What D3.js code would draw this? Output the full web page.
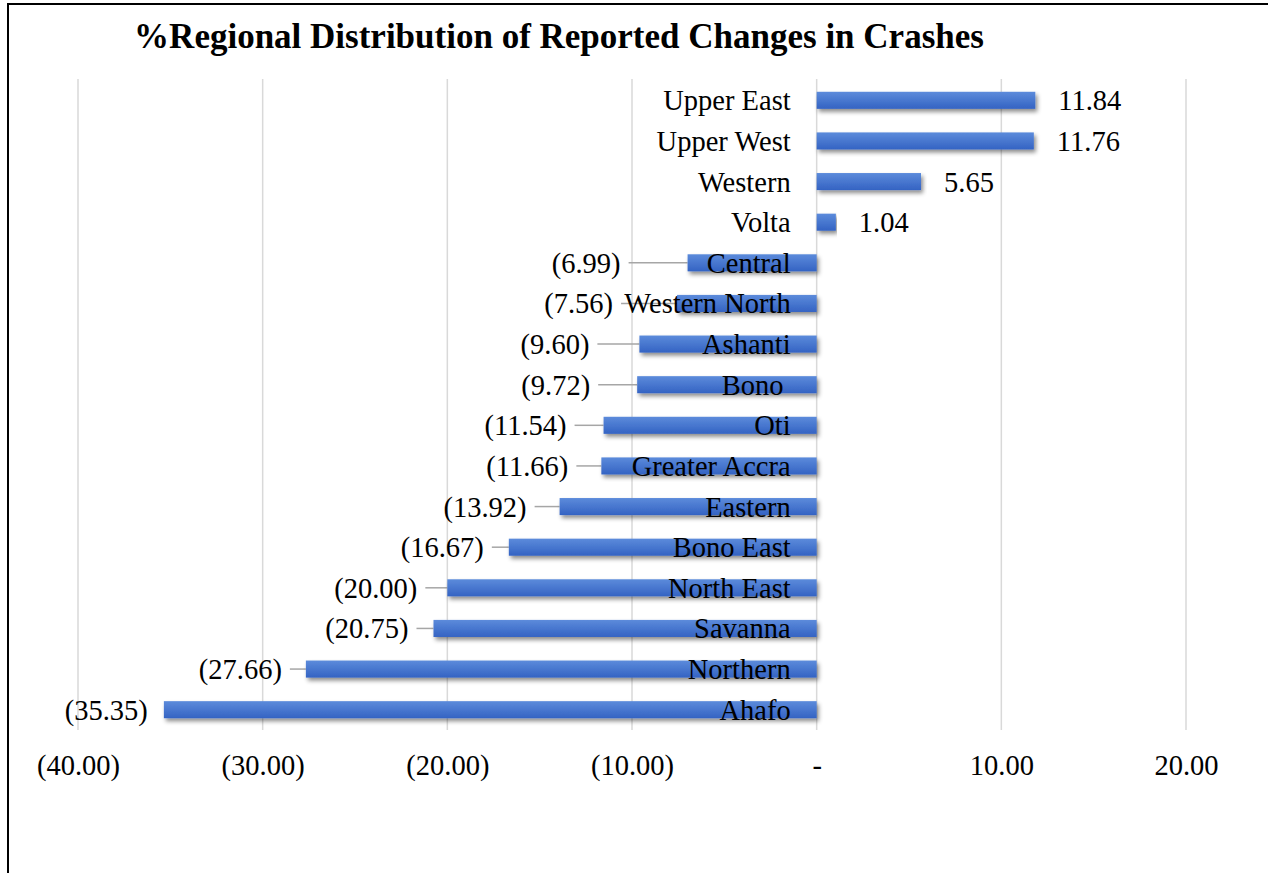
<!DOCTYPE html>
<html>
<head>
<meta charset="utf-8">
<script src="https://cdn.jsdelivr.net/npm/d3@7"></script>
<style>
	body { margin: 0; background: #fff; }
	svg { display: block; font-family: "Liberation Serif", "Times New Roman", serif; }
</style>
</head>
<body>
<svg width="1268" height="873"></svg>
<script>
// regions, top to bottom as in the chart
const regions = ["Upper East", "Upper West", "Western", "Volta", "Central", "Western North",
	"Ashanti", "Bono ", "Oti", "Greater Accra", "Eastern", "Bono East", "North East",
	"Savanna", "Northern", "Ahafo"];
const changes = [11.84, 11.76, 5.65, 1.04, -6.99, -7.56, -9.60, -9.72, -11.54, -11.66,
	-13.92, -16.67, -20.00, -20.75, -27.66, -35.35];
const ticks = [-40, -30, -20, -10, 0, 10, 20];
// how far the negative labels sit left of their bar (px)
const labelGap = [0, 0, 0, 0, 67, 64, 50, 47, 37, 33, 33, 25, 30, 25, 24, 16];

let svg = d3.select("svg");
const fs = 28.5;

const fmt = v => v === 0 ? "-" : v < 0 ? "(" + d3.format(".2f")(-v) + ")" : d3.format(".2f")(v);

let x = d3.scaleLinear().domain([-40, 20]).range([78, 1186]);
let y = d3.scaleBand().domain(regions).range([80, 730]).paddingInner(0.58).paddingOuter(0.29);

// outer frame (only top and left are inside the picture)
svg.append("path")
	.attr("d", "M8,873 V4 H1268")
	.attr("fill", "none")
	.attr("stroke", "#000")
	.attr("stroke-width", 2);

svg.append("text")
	.attr("x", 559)
	.attr("y", 48)
	.attr("text-anchor", "middle")
	.attr("font-size", 35)
	.attr("font-weight", "bold")
	.text("%Regional Distribution of Reported Changes in Crashes");

let defs = svg.append("defs");
let grad = defs.append("linearGradient")
	.attr("id", "barfill")
	.attr("x1", 0).attr("y1", 0).attr("x2", 0).attr("y2", 1);
grad.append("stop").attr("offset", "0%").attr("stop-color", "#5c8bdb");
grad.append("stop").attr("offset", "100%").attr("stop-color", "#3463c3");

let shadow = defs.append("filter")
	.attr("id", "shadow")
	.attr("x", "-5%").attr("y", "-40%").attr("width", "110%").attr("height", "200%");
shadow.append("feDropShadow")
	.attr("dx", 2).attr("dy", 3).attr("stdDeviation", 2)
	.attr("flood-color", "#000").attr("flood-opacity", 0.45);

// gridlines
svg.append("g")
	.selectAll("line")
	.data(ticks)
	.enter().append("line")
		.attr("x1", d => x(d)).attr("x2", d => x(d))
		.attr("y1", 79).attr("y2", 730)
		.attr("stroke", "#d9d9d9")
		.attr("stroke-width", 1.5);

// axis
let axis = svg.append("g")
	.attr("transform", "translate(0,752)")
	.call(d3.axisBottom(x).tickValues(ticks).tickFormat(fmt).tickSize(0).tickPadding(0));
axis.select(".domain").remove();
axis.selectAll("text")
	.attr("font-family", "Liberation Serif, Times New Roman, serif")
	.attr("font-size", fs)
	.attr("fill", "#000")
	.attr("dy", "0.8em");

let rows = regions.map((r, i) => ({ name: r, v: changes[i], gap: labelGap[i] }));

// leader lines for negative labels
svg.append("g")
	.selectAll("line")
	.data(rows.filter(d => d.v < 0 && d.gap > 20))
	.enter().append("line")
		.attr("x1", d => x(d.v) - d.gap + 8)
		.attr("x2", d => x(d.v))
		.attr("y1", d => y(d.name) + y.bandwidth() / 2)
		.attr("y2", d => y(d.name) + y.bandwidth() / 2)
		.attr("stroke", "#a6a6a6")
		.attr("stroke-width", 1.5);

// bars
svg.append("g")
	.selectAll("rect")
	.data(rows)
	.enter().append("rect")
		.attr("x", d => x(Math.min(0, d.v)))
		.attr("width", d => Math.abs(x(d.v) - x(0)))
		.attr("y", d => y(d.name))
		.attr("height", y.bandwidth())
		.attr("fill", "url(#barfill)")
		.attr("filter", "url(#shadow)");

// category labels
svg.append("g")
	.selectAll("text")
	.data(rows)
	.enter().append("text")
		.attr("x", x(0) - 26)
		.attr("y", d => y(d.name) + y.bandwidth() / 2)
		.attr("dy", "0.35em")
		.attr("text-anchor", "end")
		.attr("font-size", fs)
		.style("white-space", "pre")
		.text(d => d.name);

// value labels
svg.append("g")
	.selectAll("text")
	.data(rows)
	.enter().append("text")
		.attr("x", d => d.v < 0 ? x(d.v) - d.gap : x(d.v) + 23)
		.attr("y", d => y(d.name) + y.bandwidth() / 2)
		.attr("dy", "0.35em")
		.attr("text-anchor", d => d.v < 0 ? "end" : "start")
		.attr("font-size", fs)
		.text(d => fmt(d.v));
</script>
</body>
</html>
